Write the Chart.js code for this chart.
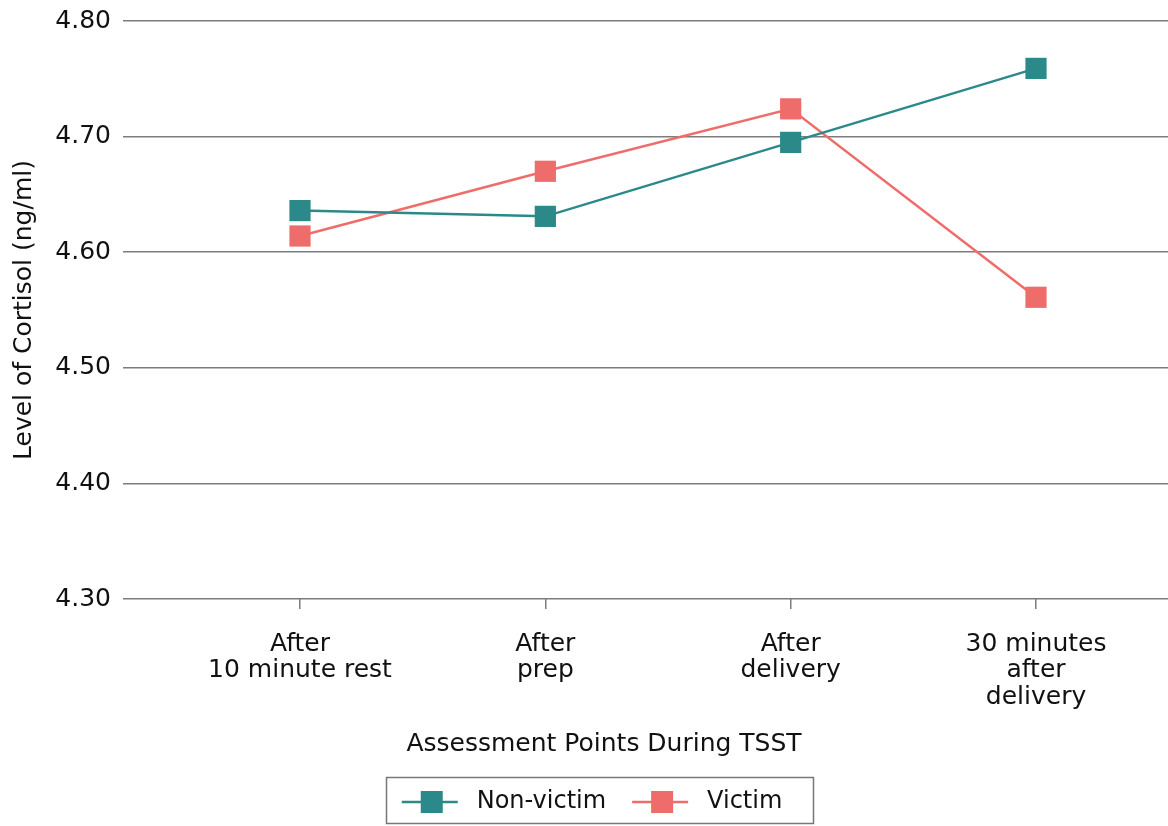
<!DOCTYPE html>
<html>
<head>
<meta charset="utf-8">
<title>Cortisol during TSST</title>
<script src="https://cdn.jsdelivr.net/npm/chart.js@4.4.1/dist/chart.umd.min.js"></script>
<style>
    body { margin: 0; background: #fff; }
    #wrap { width: 1168px; height: 826px; }
</style>
</head>
<body>
<div id="wrap"><canvas id="cortisolChart" width="1168" height="826"></canvas></div>
<script>
// Chart data
const categories = [
    ['After', '10 minute rest'],
    ['After', 'prep'],
    ['After', 'delivery'],
    ['30 minutes', 'after', 'delivery']
];
const nonVictim = [4.636, 4.631, 4.695, 4.759];
const victim = [4.614, 4.670, 4.724, 4.561];
const yTicks = [4.30, 4.40, 4.50, 4.60, 4.70, 4.80];

const TEAL = '#2b8a89';
const SALMON = '#ee6d6a';
const TEXT = '#111';
const GRID = '#7d7d7d';
const FONT = '"DejaVu Sans", sans-serif';

// small canvas used as legend symbol: line with a square on it
function legendMarker(color) {
    const c = document.createElement('canvas');
    c.width = 79;
    c.height = 24;
    const g = c.getContext('2d');
    g.strokeStyle = color;
    g.lineWidth = 2.5;
    g.beginPath();
    g.moveTo(16, 12);
    g.lineTo(72, 12);
    g.stroke();
    g.fillStyle = color;
    g.fillRect(35, 1, 22, 22);
    return c;
}

// frame around the legend
const legendFrame = {
    id: 'legendFrame',
    afterDraw(chart) {
        const boxes = chart.legend && chart.legend.legendHitBoxes;
        if (!boxes || !boxes.length) return;
        const first = boxes[0];
        const last = boxes[boxes.length - 1];
        const mid = first.top + first.height / 2;
        const left = Math.round(first.left) + 0.5;
        const right = Math.round(last.left + last.width + 31) + 0.5;
        const ctx = chart.ctx;
        ctx.save();
        ctx.strokeStyle = '#777';
        ctx.lineWidth = 1.5;
        ctx.strokeRect(left, Math.round(mid - 25) + 0.5, right - left, 46);
        ctx.restore();
    }
};

// the axis title in the original sits a bit right of the canvas centre
const shiftTitle = {
    id: 'shiftTitle',
    afterLayout(chart) {
        const t = chart.titleBlock;
        if (t) {
            t.left += 20;
            t.right += 20;
        }
    }
};

function toPoints(values) {
    return values.map((v, i) => ({ x: i, y: v }));
}

function lineDataset(label, values, color) {
    return {
        label: label,
        data: toPoints(values),
        borderColor: color,
        backgroundColor: color,
        borderWidth: 2.5,
        tension: 0,
        pointStyle: 'rect',
        pointRadius: 15,
        pointHoverRadius: 15,
        pointBorderWidth: 0
    };
}

const ctx = document.getElementById('cortisolChart').getContext('2d');
new Chart(ctx, {
    type: 'line',
    data: {
        datasets: [
            lineDataset('Non-victim', nonVictim, TEAL),
            lineDataset('Victim', victim, SALMON)
        ]
    },
    plugins: [legendFrame, shiftTitle],
    options: {
        responsive: false,
        animation: false,
        layout: { autoPadding: false, padding: { top: 21, left: 0, right: 0, bottom: 2 } },
        scales: {
            x: {
                type: 'linear',
                min: -0.7215,
                max: 3.538,
                afterBuildTicks: axis => {
                    axis.ticks = categories.map((c, i) => ({ value: i }));
                },
                afterFit: axis => { axis.height = 110; },
                grid: { drawOnChartArea: false, drawTicks: true, tickLength: 10, color: GRID, lineWidth: 1.5 },
                border: { display: false },
                ticks: {
                    callback: v => categories[v],
                    padding: 22,
                    autoSkip: false,
                    maxRotation: 0,
                    color: TEXT,
                    font: { family: FONT, size: 25, lineHeight: 1.06 }
                }
            },
            y: {
                min: 4.3,
                max: 4.8,
                afterBuildTicks: axis => {
                    axis.ticks = yTicks.map(v => ({ value: v }));
                },
                afterFit: axis => {
                    axis.width = 123;
                    axis.paddingTop = 0;
                    axis.paddingBottom = 0;
                },
                grid: { drawTicks: false, color: GRID, lineWidth: 1.5 },
                border: { display: false },
                ticks: {
                    callback: v => v.toFixed(2),
                    padding: 12,
                    color: TEXT,
                    font: { family: FONT, size: 25 }
                },
                title: {
                    display: true,
                    text: 'Level of Cortisol (ng/ml)',
                    color: TEXT,
                    font: { family: FONT, size: 25 },
                    padding: { top: 9, bottom: 0 }
                }
            }
        },
        plugins: {
            tooltip: { enabled: false },
            title: {
                display: true,
                position: 'bottom',
                weight: 500,
                text: 'Assessment Points During TSST',
                color: TEXT,
                font: { family: FONT, size: 25, weight: 'normal' },
                padding: { top: 20, bottom: 21 }
            },
            legend: {
                position: 'bottom',
                labels: {
                    usePointStyle: true,
                    pointStyleWidth: 79,
                    padding: 10,
                    color: TEXT,
                    font: { family: FONT, size: 24 },
                    generateLabels: chart => chart.data.datasets.map((ds, i) => ({
                        text: ds.label,
                        pointStyle: legendMarker(ds.borderColor),
                        fillStyle: ds.borderColor,
                        strokeStyle: ds.borderColor,
                        lineWidth: 0,
                        fontColor: TEXT,
                        datasetIndex: i
                    }))
                }
            }
        }
    }
});
</script>
</body>
</html>
